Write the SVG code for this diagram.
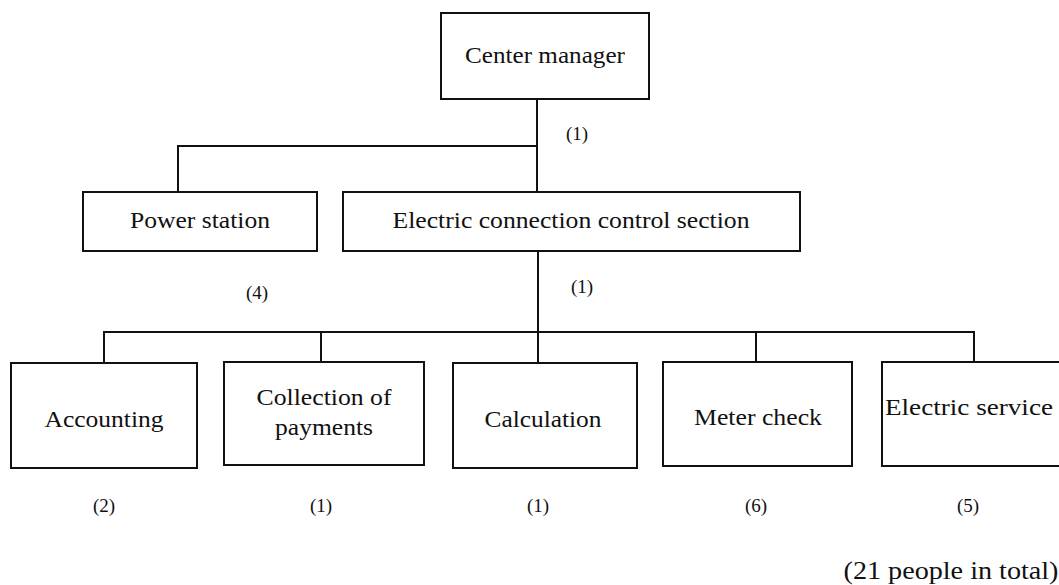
<svg xmlns="http://www.w3.org/2000/svg" width="1059" height="585" viewBox="0 0 1059 585">
<style>
.box{fill:#fff;stroke:#111;stroke-width:2}
.lbl{font-family:"Liberation Serif","Times New Roman",serif;font-size:23px;fill:#111;text-anchor:middle}
.num{font-family:"Liberation Serif","Times New Roman",serif;font-size:19px;fill:#111;text-anchor:middle}
.tot{font-family:"Liberation Serif","Times New Roman",serif;font-size:25px;fill:#111;text-anchor:middle}
.conn{fill:none;stroke:#111;stroke-width:2}
</style>
<rect width="1059" height="585" fill="#fff"/>
<g id="connectors">
<path class="conn" d="M537 99 V192 M178 192 V146 H537"/>
<path class="conn" d="M538 251 V362 M104 362 V332 H974 V362 M321 332 V362 M756 332 V362"/>
</g>
<g id="center-manager">
<rect class="box" x="441" y="13" width="208" height="86"/>
<text class="lbl" x="545" y="63" textLength="160" lengthAdjust="spacingAndGlyphs">Center manager</text>
<text class="num" x="577" y="140">(1)</text>
</g>
<g id="power-station">
<rect class="box" x="83" y="192" width="234" height="59"/>
<text class="lbl" x="200" y="228" textLength="140" lengthAdjust="spacingAndGlyphs">Power station</text>
<text class="num" x="257" y="299">(4)</text>
</g>
<g id="ecc-section">
<rect class="box" x="343" y="192" width="457" height="59"/>
<text class="lbl" x="571" y="228" textLength="357" lengthAdjust="spacingAndGlyphs">Electric connection control section</text>
<text class="num" x="582" y="293">(1)</text>
</g>
<g id="accounting">
<rect class="box" x="11" y="363" width="186" height="105"/>
<text class="lbl" x="104" y="427" textLength="119" lengthAdjust="spacingAndGlyphs">Accounting</text>
<text class="num" x="104" y="512">(2)</text>
</g>
<g id="collection">
<rect class="box" x="224" y="362" width="200" height="103"/>
<text class="lbl" x="324" y="405" textLength="135" lengthAdjust="spacingAndGlyphs">Collection of</text>
<text class="lbl" x="324" y="435" textLength="98" lengthAdjust="spacingAndGlyphs">payments</text>
<text class="num" x="321" y="512">(1)</text>
</g>
<g id="calculation">
<rect class="box" x="453" y="363" width="184" height="105"/>
<text class="lbl" x="543" y="427" textLength="117" lengthAdjust="spacingAndGlyphs">Calculation</text>
<text class="num" x="538" y="512">(1)</text>
</g>
<g id="meter-check">
<rect class="box" x="663" y="362" width="189" height="104"/>
<text class="lbl" x="758" y="425" textLength="128" lengthAdjust="spacingAndGlyphs">Meter check</text>
<text class="num" x="756" y="512">(6)</text>
</g>
<g id="electric-service">
<rect class="box" x="882" y="362" width="182" height="104"/>
<text class="lbl" x="969" y="415" textLength="168" lengthAdjust="spacingAndGlyphs">Electric service</text>
<text class="num" x="968" y="512">(5)</text>
</g>
<text class="tot" x="951" y="579" textLength="215" lengthAdjust="spacingAndGlyphs">(21 people in total)</text>
</svg>
